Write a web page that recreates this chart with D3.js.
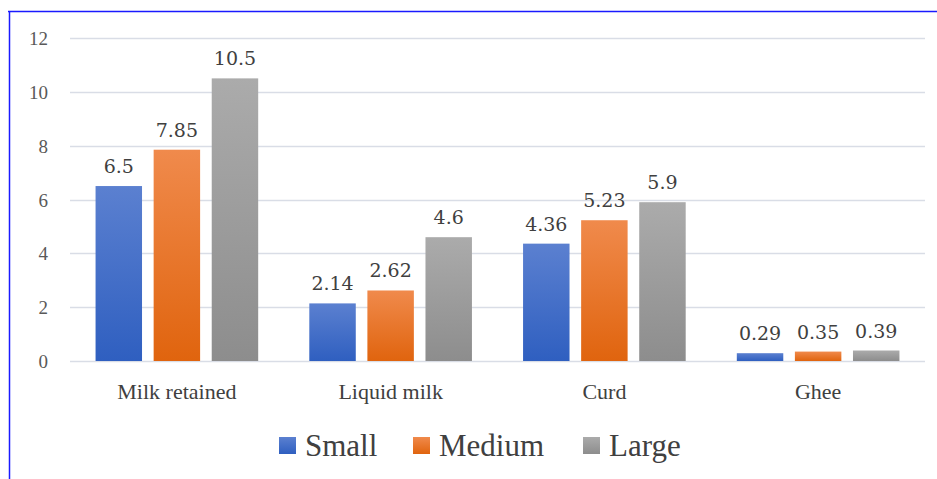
<!DOCTYPE html>
<html lang="en">
<head>
<meta charset="utf-8">
<script src="https://cdnjs.cloudflare.com/ajax/libs/d3/7.8.5/d3.min.js"></script>
</head>
<body style="margin:0">
<script>
// data
var categories = ["Milk retained", "Liquid milk", "Curd", "Ghee"];
var seriesNames = ["Small", "Medium", "Large"];
var small = [6.5, 2.14, 4.36, 0.29];
var medium = [7.85, 2.62, 5.23, 0.35];
var large = [10.5, 4.6, 5.9, 0.39];
var yTicks = [0, 2, 4, 6, 8, 10, 12];

var seriesValues = [small, medium, large];
var colors = [
  ["#5b80d0", "#2f5fc0"],
  ["#f08a4c", "#e0640e"],
  ["#ababab", "#8d8d8d"]
];

var W = 937, H = 479;
var margin = {top: 38, right: 12, bottom: 118, left: 70};
var width = W - margin.left - margin.right,
    height = H - margin.top - margin.bottom;

var svg = d3.select("body").append("svg")
  .attr("width", W).attr("height", H);

// gradients for bars
var defs = svg.append("defs");
colors.forEach(function(c, i) {
  var gr = defs.append("linearGradient")
    .attr("id", "grad" + i)
    .attr("x1", 0).attr("y1", 0).attr("x2", 0).attr("y2", 1);
  gr.append("stop").attr("offset", "0%").attr("stop-color", c[0]);
  gr.append("stop").attr("offset", "100%").attr("stop-color", c[1]);
});

// blue frame lines
svg.append("line").attr("x1", 8).attr("x2", W).attr("y1", 11.5).attr("y2", 11.5)
  .attr("stroke", "#1a1aff").attr("stroke-width", 1.5);
svg.append("line").attr("x1", 9.5).attr("x2", 9.5).attr("y1", 11).attr("y2", H)
  .attr("stroke", "#1a1aff").attr("stroke-width", 1.5);

var g = svg.append("g")
  .attr("transform", "translate(" + margin.left + "," + margin.top + ")");

var x0 = d3.scaleBand().domain(categories).range([0, width]);
var x1 = d3.scaleBand().domain(seriesNames).range([0, x0.bandwidth()])
  .paddingInner(0.2).paddingOuter(0.44);
var y = d3.scaleLinear().domain([0, 12]).range([height, 0]);

// gridlines
g.append("g").selectAll("line").data(yTicks).enter().append("line")
  .attr("x1", 0).attr("x2", width)
  .attr("y1", function(d) { return Math.round(y(d)) + 0.5; })
  .attr("y2", function(d) { return Math.round(y(d)) + 0.5; })
  .attr("stroke", "#d9dde6").attr("stroke-width", 1.5);

// y tick labels
g.append("g").selectAll("text").data(yTicks).enter().append("text")
  .attr("x", -22)
  .attr("y", function(d) { return y(d) + 7; })
  .attr("font-family", "Liberation Serif")
  .attr("font-size", 19)
  .attr("text-anchor", "end")
  .attr("fill", "#595959")
  .text(function(d) { return d; });

// bars
var groups = g.selectAll(".grp").data(categories).enter().append("g")
  .attr("class", "grp")
  .attr("transform", function(d) { return "translate(" + x0(d) + ",0)"; });

function rows(d, ci) {
  return seriesNames.map(function(s, si) { return {s: s, si: si, v: seriesValues[si][ci]}; });
}

groups.selectAll("rect")
  .data(rows)
  .enter().append("rect")
  .attr("x", function(d) { return x1(d.s); })
  .attr("width", x1.bandwidth())
  .attr("y", function(d) { return y(d.v); })
  .attr("height", function(d) { return height - y(d.v); })
  .attr("fill", function(d) { return "url(#grad" + d.si + ")"; });

groups.selectAll("text.val")
  .data(rows)
  .enter().append("text")
  .attr("class", "val")
  .attr("x", function(d) { return x1(d.s) + x1.bandwidth() / 2; })
  .attr("y", function(d) { return y(d.v) - 13; })
  .attr("font-family", "DejaVu Serif")
  .attr("font-size", 19)
  .attr("text-anchor", "middle")
  .attr("fill", "#404040")
  .text(function(d) { return d.v; });

// category labels
g.append("g").selectAll("text").data(categories).enter().append("text")
  .attr("x", function(d) { return x0(d) + x0.bandwidth() / 2; })
  .attr("y", height + 38)
  .attr("font-family", "serif")
  .attr("font-size", 22)
  .attr("text-anchor", "middle")
  .attr("fill", "#404040")
  .text(function(d) { return d; });

// legend
var legendX = [279, 413, 583];
var leg = svg.append("g").selectAll("g").data(seriesNames).enter().append("g")
  .attr("transform", function(d, i) { return "translate(" + legendX[i] + ",437)"; });
leg.append("rect").attr("width", 17).attr("height", 17)
  .attr("fill", function(d, i) { return "url(#grad" + i + ")"; });
leg.append("text")
  .attr("x", 26).attr("y", 19)
  .attr("font-family", "Times New Roman")
  .attr("font-size", 31)
  .attr("fill", "#404040")
  .text(function(d) { return d; });
</script>
</body>
</html>
